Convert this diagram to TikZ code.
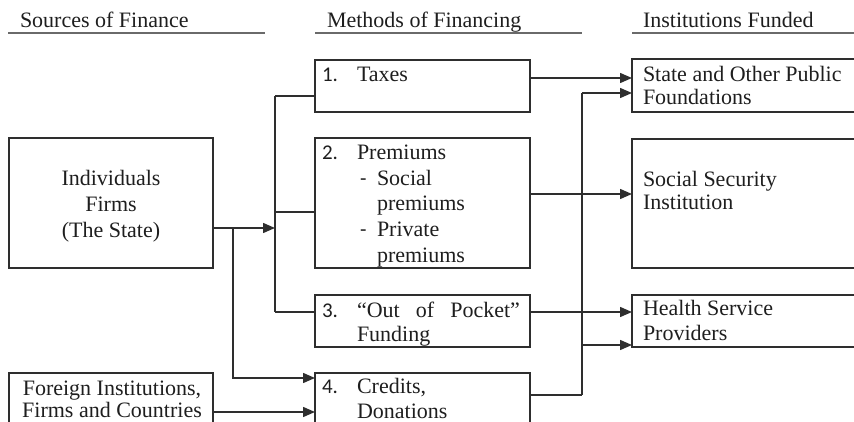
\documentclass[tikz,border=0pt]{standalone}
\usepackage{fontspec}
\setmainfont{Liberation Serif}
\newfontfamily\numfont{Carlito}
\usetikzlibrary{arrows.meta,calc}
\definecolor{linec}{HTML}{2E2E2E}
\definecolor{textc}{HTML}{1E1E1E}
\definecolor{headc}{HTML}{6A6A6A}
\begin{document}
\begin{tikzpicture}[x=1pt,y=-1pt,
  box/.style={draw=linec, line width=1.2pt, rectangle, inner sep=0pt, outer sep=0pt},
  txt/.style={inner sep=0pt, outer sep=0pt, anchor=base west, font=\fontsize{22}{26}\selectfont, text=textc},
  ctxt/.style={txt, anchor=base},
  num/.style={txt, font=\fontsize{21}{26}\selectfont\numfont},
  conn/.style={draw=linec, line width=1.5pt},
  arr/.style={conn, -{Triangle[length=12pt,width=10pt]}},
  hline/.style={draw=headc, line width=1.6pt}]
\useasboundingbox (0,0) rectangle (854,422);
\clip (0,0) rectangle (854,422);

% headers
\node[txt] (h1) at (20,28) {Sources of Finance};
\node[txt] (h2) at (327,28) {Methods of Financing};
\node[txt] (h3) at (643,28) {Institutions Funded};
\draw[hline] (8,33) -- (265,33);
\draw[hline] (315,33) -- (582,33);
\draw[hline] (632,33) -- (860,33);

% boxes
\node[box, minimum width=204pt, minimum height=130pt] (indiv) at (111,203) {};
\node[box, minimum width=204pt, minimum height=80pt] (foreign) at (111,413) {};
\node[box, minimum width=215pt, minimum height=52pt] (taxes) at (422.5,86) {};
\node[box, minimum width=215pt, minimum height=130pt] (prem) at (422.5,203) {};
\node[box, minimum width=215pt, minimum height=52pt] (oop) at (422.5,321) {};
\node[box, minimum width=215pt, minimum height=80pt] (credits) at (422.5,413) {};
\node[box, minimum width=238pt, minimum height=53pt] (state) at (751,85.5) {};
\node[box, minimum width=238pt, minimum height=129pt] (social) at (751,203.5) {};
\node[box, minimum width=238pt, minimum height=52pt] (health) at (751,321) {};

% left box texts
\node[ctxt] (i1) at (111,186) {Individuals};
\node[ctxt] (i2) at (111,212) {Firms};
\node[ctxt] (i3) at (111,237) {(The State)};
\node[ctxt] (f1) at (112,395) {Foreign Institutions,};
\node[ctxt] (f2) at (112,417) {Firms and Countries};

% middle box texts
\node[num] (n1) at (322,82) {1.};
\node[txt] (m1) at (357,82) {Taxes};
\node[num] (n2) at (322,160) {2.};
\node[txt] (m2) at (357,160) {Premiums};
\node[num] (d1) at (360,185.5) {-};
\node[txt] (m3) at (377,185.5) {Social};
\node[txt] (m4) at (377,211) {premiums};
\node[num] (d2) at (360,236.5) {-};
\node[txt] (m5) at (377,236.5) {Private};
\node[txt] (m6) at (377,262) {premiums};
\node[num] (n3) at (322,317) {3.};
\node[txt] (m7) at (357,317) {\makebox[163pt][s]{“Out\hfill of\hfill Pocket”}};
\node[txt] (m8) at (357,341) {Funding};
\node[num] (n4) at (322,393) {4.};
\node[txt] (m9) at (357,393) {Credits,};
\node[txt] (m10) at (357,418) {Donations};

% right box texts
\node[txt] (r1t) at (643,82) {State and Other Public};
\node[txt] (r2t) at (643,105) {Foundations};
\node[txt] (r3t) at (643,186.5) {Social Security};
\node[txt] (r4t) at (643,210) {Institution};
\node[txt] (r5t) at (643,315) {Health Service};
\node[txt] (r6t) at (643,340) {Providers};

% left connectors
\coordinate (busL) at (275,228);
\coordinate (busLtop) at (275,96);
\coordinate (busLmid) at (275,212);
\coordinate (busLbot) at (275,312);
\coordinate (split) at (233,228);
\coordinate (cin) at (260,378);
\coordinate (fin) at (260,412);
\draw[conn] (busLtop) -- (busLbot);
\draw[conn] (busLtop) -- (busLtop -| taxes.west);
\draw[conn] (busLmid) -- (busLmid -| prem.west);
\draw[conn] (busLbot) -- (busLbot -| oop.west);
\draw[arr] (busL -| indiv.east) -- (busL);
\draw[arr] (split) |- (credits.west |- cin);
\draw[arr] (foreign.east |- fin) -- (credits.west |- fin);

% right connectors
\coordinate (ra) at (600,78);
\coordinate (rb) at (600,194);
\coordinate (rc) at (600,312);
\coordinate (busRtop) at (582,93);
\coordinate (busRh) at (582,345);
\coordinate (busRbot) at (582,395);
\draw[arr] (taxes.east |- ra) -- (state.west |- ra);
\draw[arr] (prem.east |- rb) -- (social.west |- rb);
\draw[arr] (oop.east |- rc) -- (health.west |- rc);
\draw[conn] (busRtop) -- (busRbot);
\draw[arr] (busRtop) -- (busRtop -| state.west);
\draw[arr] (busRh) -- (busRh -| health.west);
\draw[conn] (credits.east |- busRbot) -- (busRbot);
\end{tikzpicture}
\end{document}
